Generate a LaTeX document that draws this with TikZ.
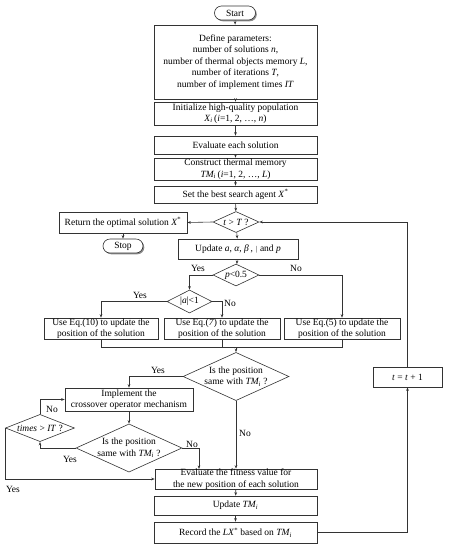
\documentclass[tikz,border=0pt]{standalone}
\usepackage{fontspec}
\setmainfont{Liberation Serif}
\usetikzlibrary{arrows.meta,shapes.geometric,shadows}

\newcommand{\tmi}{\textit{TM\textsubscript{i}}}

\begin{document}
\begin{tikzpicture}[x=1pt,y=-1pt,
  font=\fontsize{9.5}{11.5}\selectfont,
  line width=0.6pt, draw=black!80,
  shad/.style={drop shadow={shadow xshift=1.3pt,shadow yshift=-1.3pt,fill=black!45,opacity=1}},
  box/.style={draw,fill=white,align=center,inner sep=0pt,shad},
  term/.style={draw,fill=white,rounded corners=7pt,inner sep=0pt,
               minimum width=41pt,minimum height=14pt,shad},
  decision/.style={diamond,draw,fill=white,inner sep=0pt,aspect=2.2,align=center},
  arr/.style={-{Stealth[length=3.5pt,width=2.6pt]}},
  lbl/.style={inner sep=0pt}]
\useasboundingbox (0,0) rectangle (450,550);

% Main column
\node[term] (start) at (235,13) {Start};
\node[box,minimum width=163pt,minimum height=74pt] (params) at (235.5,62)
  {Define parameters:\\ number of solutions \textit{n},\\
   number of thermal objects memory \textit{L},\\
   number of iterations \textit{T},\\ number of implement times \textit{IT}};
\node[box,minimum width=163pt,minimum height=23pt] (init) at (235.5,113.5)
  {Initialize high-quality population\\ \textit{X\textsubscript{i}}\,(\textit{i}=1, 2, \dots, \textit{n})};
\node[box,minimum width=163pt,minimum height=18pt] (evalsol) at (235.5,145) {Evaluate each solution};
\node[box,minimum width=163pt,minimum height=22pt] (thermal) at (235.5,169)
  {Construct thermal memory\\ \tmi\,(\textit{i}=1, 2, \dots, \textit{L})};
\node[box,minimum width=163pt,minimum height=17pt] (best) at (235.5,194.5)
  {Set the best search agent \textit{X}\textsuperscript{*}};

% Loop test
\node[decision,minimum width=46pt,minimum height=21pt] (ttest) at (236,222) {\textit{t} > \textit{T} ?};
\node[box,minimum width=128pt,minimum height=21pt] (ret) at (123,222.5)
  {Return the optimal solution \textit{X}\textsuperscript{*}};
\node[term,minimum width=40pt] (stop) at (123,246) {Stop};
\node[box,minimum width=120pt,minimum height=20pt] (upd) at (238,249)
  {Update \textit{a}, \textit{α}, \textit{β}\,, {\scriptsize$|$} and \textit{p}};
\node[decision,minimum width=46pt,minimum height=22pt] (ptest) at (236,275) {\textit{p}<0.5};
\node[decision,minimum width=45pt,minimum height=23pt] (atest) at (189.5,301.5) {|\textit{a}|<1};

% Position updates
\node[box,minimum width=114pt,minimum height=21pt] (eqten) at (101,328.5)
  {Use Eq.(10) to update the\\ position of the solution};
\node[box,minimum width=116pt,minimum height=21pt] (eqseven) at (222,328.5)
  {Use Eq.(\textit{7}) to update the\\ position of the solution};
\node[box,minimum width=116pt,minimum height=21pt] (eqfive) at (342,328.5)
  {Use Eq.(5) to update the\\ position of the solution};
\coordinate (merge) at (236,347);

% Crossover part
\node[decision,minimum width=98pt,minimum height=47pt] (sameA) at (236,376.5)
  {Is the position\\ same with \tmi\ ?};
\node[box,minimum width=128pt,minimum height=23pt] (cross) at (129,399.5)
  {Implement the\\ crossover operator mechanism};
\node[decision,minimum width=69pt,minimum height=20pt] (ittest) at (40,428)
  {\textit{times} > \textit{IT} ?};
\node[decision,minimum width=94pt,minimum height=38pt] (sameB) at (129,448)
  {Is the position\\ same with \tmi\ ?};
\coordinate (intoB) at (199,469);

% Bottom column
\node[box,minimum width=162pt,minimum height=20pt] (fitness) at (236,479)
  {Evaluate the fitness value for\\ the new position of each solution};
\node[box,minimum width=163pt,minimum height=19pt] (updtm) at (235.5,505.5) {Update \tmi};
\node[box,minimum width=163pt,minimum height=21pt] (record) at (235.5,532.5)
  {Record the \textit{LX}\textsuperscript{*} based on \tmi};
\node[box,minimum width=69pt,minimum height=20pt] (incr) at (407.5,377)
  {\textit{t} = \textit{t} + 1};

% Connectors
\draw[arr] (start) -- (params);
\draw[arr] (params) -- (init);
\draw[arr] (init) -- (evalsol);
\draw[arr] (evalsol) -- (thermal);
\draw[arr] (thermal) -- (best);
\draw[arr] (best) -- (ttest);
\draw[arr] (ttest.west) -- (ret.east);
\draw[arr] (ret) -- (stop);
\draw[arr] (ttest) -- (upd);
\draw[arr] (upd) -- (ptest);
\draw[arr] (ptest.west) -| (atest.north);
\draw[arr] (ptest.east) -| (eqfive.north);
\draw[arr] (atest.west) -| (eqten.north);
\draw[arr] (atest.east) -| (eqseven.north);
\draw (eqten.south) |- (merge);
\draw (eqseven.south) |- (merge);
\draw (eqfive.south) |- (merge);
\draw[arr] (merge) -- (sameA.north);
\draw[arr] (sameA.west) -| (cross.north);
\draw[arr] (sameA.south) -- (fitness.north);
\draw[arr] (cross) -- (sameB);
\draw[arr] (sameB.east) -| (intoB);
\draw[arr] (sameB.west) -| (ittest.south);
\draw[arr] (ittest.north) |- (cross.west);
\draw[arr] (ittest.west) |- (fitness.west);
\draw[arr] (fitness) -- (updtm);
\draw[arr] (updtm) -- (record);
\draw[arr] (record.east) -| (incr.south);
\draw[arr] (incr.north) |- (ttest.east);

% Yes / No labels
\node[lbl] (yesP) at (198,268) {Yes};
\node[lbl] (noP) at (296,268) {No};
\node[lbl] (yesA) at (140,295) {Yes};
\node[lbl] (noA) at (230,303) {No};
\node[lbl] (yesS) at (158,370) {Yes};
\node[lbl] (noS) at (245,433) {No};
\node[lbl] (noI) at (52,409) {No};
\node[lbl] (noB) at (192,444) {No};
\node[lbl] (yesB) at (70,459) {Yes};
\node[lbl] (yesI) at (13,489) {Yes};
\end{tikzpicture}
\end{document}
